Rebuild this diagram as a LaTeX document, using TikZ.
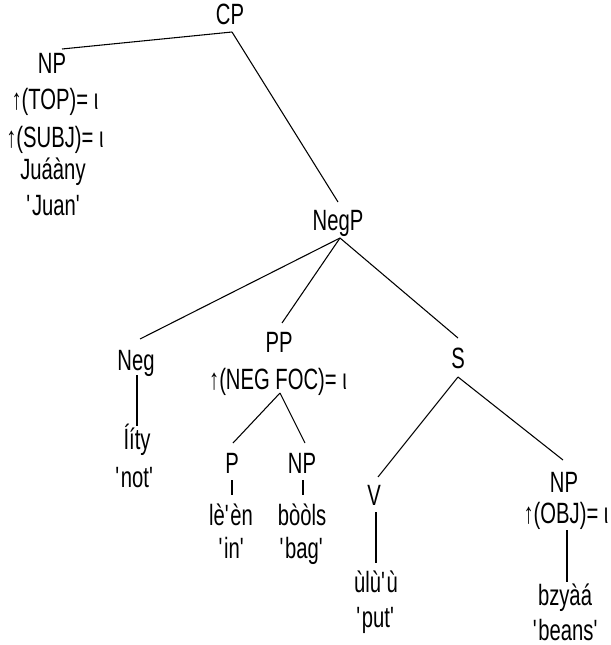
\documentclass[tikz,border=0pt]{standalone}
\usepackage{fontspec}
\usetikzlibrary{calc}
% narrow sans for the tree labels
\newfontfamily\treefont[FakeStretch=0.69]{Liberation Sans}
\newcommand{\sq}{\textquotesingle}
\begin{document}
\begin{tikzpicture}[x=0.75pt,y=-0.75pt,
  lab/.style={anchor=base,inner sep=0pt,outer sep=0pt,
    font=\treefont\fontsize{22}{26}\selectfont},
  branch/.style={line width=0.8pt,black}]
\fill[white] (0,0) rectangle (610,645);
\useasboundingbox (0,0) rectangle (610,645);

% --- labels ---
\node[lab] (cp)     at (230,25)  {CP};
\node[lab] (np1)    at (52,74)   {NP};
\node[lab] (top)    at (55,110)  {↑(TOP)= ι};
\node[lab] (subj)   at (55,148)  {↑(SUBJ)= ι};
\node[lab] (juany)  at (53,180)  {Juáàny};
\node[lab] (juan)   at (54,215)  {\sq Juan\sq};

\node[lab] (negp)   at (338,230) {NegP};
\node[lab] (neg)    at (136,370) {Neg};
\node[lab] (ity)    at (137,449) {Ííty};
\node[lab] (nt)     at (135,487) {\sq not\sq};

\node[lab] (pp)     at (279,352) {PP};
\node[lab] (negfoc) at (278,389) {↑(NEG FOC)= ι};
\node[lab] (p)      at (232,473) {P};
\node[lab] (np2)    at (302,473) {NP};
\node[lab] (leen)   at (231,525) {lè\sq èn};
\node[lab] (bools)  at (302,525) {bòòls};
\node[lab] (in)     at (232,558) {\sq in\sq};
\node[lab] (bag)    at (302,558) {\sq bag\sq};

\node[lab] (s)      at (458,368) {S};
\node[lab] (v)      at (374,505) {V};
\node[lab] (ulu)    at (376,592) {ùlù\sq ù};
\node[lab] (put)    at (376,627) {\sq put\sq};
\node[lab] (np3)    at (564,492) {NP};
\node[lab] (obj)    at (566,523) {↑(OBJ)= ι};
\node[lab] (bzy)    at (565,605) {bzyàá};
\node[lab] (beans)  at (566,640) {\sq beans\sq};

% --- branches ---
\draw[branch] ($(cp.base)+(2,7)$) -- ($(np1.base)+(10,-25)$);
\draw[branch] ($(cp.base)+(2,7)$) -- ($(negp.base)+(0,-28)$);

\draw[branch] ($(negp.base)+(2,8)$) -- ($(neg.base)+(4,-31)$);
\draw[branch] ($(negp.base)+(2,8)$) -- ($(pp.base)+(3,-29)$);
\draw[branch] ($(negp.base)+(2,8)$) -- ($(s.base)+(0,-30)$);

\draw[branch] ($(neg.base)+(1,5)$) -- ($(ity.base)+(0,-23)$);

\draw[branch] ($(negfoc.base)+(2,4)$) -- ($(p.base)+(1,-30)$);
\draw[branch] ($(negfoc.base)+(2,4)$) -- ($(np2.base)+(3,-30)$);
\draw[branch] ($(p.base)+(0,7)$) -- ($(leen.base)+(1,-30)$);
\draw[branch] ($(np2.base)+(1,7)$) -- ($(bools.base)+(1,-30)$);

\draw[branch] ($(s.base)+(0,9)$) -- ($(v.base)+(4,-28)$);
\draw[branch] ($(s.base)+(0,9)$) -- ($(np3.base)+(-1,-32)$);
\draw[branch] ($(v.base)+(2,7)$) -- ($(ulu.base)+(0,-29)$);
\draw[branch] ($(obj.base)+(1,7)$) -- ($(bzy.base)+(2,-23)$);
\end{tikzpicture}
\end{document}
